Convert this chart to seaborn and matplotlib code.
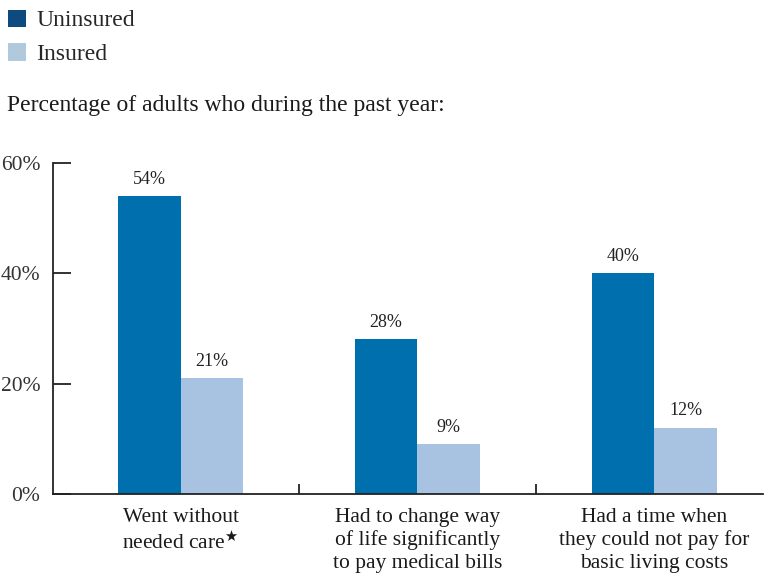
import matplotlib
matplotlib.use("Agg")
import matplotlib.pyplot as plt
import seaborn as sns
import pandas as pd
from matplotlib.patches import Patch

categories = ["Went without\nneeded care$^{\\bigstar}$",
              "Had to change way\nof life significantly\nto pay medical bills",
              "Had a time when\nthey could not pay for\nbasic living costs"]
groups = ["Uninsured", "Insured"]
uninsured = [54, 28, 40]
insured = [21, 9, 12]
yticks = [0, 20, 40, 60]
ytick_labels = ["0%", "20%", "40%", "60%"]

bar_colors = ["#006fae", "#a8c3e1"]
legend_colors = ["#0d4a7e", "#b1c9dc"]

sns.set_theme(style="white")
plt.rcParams["font.family"] = ["Liberation Serif", "DejaVu Serif"]
plt.rcParams["mathtext.fontset"] = "dejavuserif"

df = pd.DataFrame({
    "cat": categories * 2,
    "group": [groups[0]] * 3 + [groups[1]] * 3,
    "value": uninsured + insured,
})

fig = plt.figure(figsize=(7.64, 5.75), dpi=100)
ax = fig.add_axes([0.069, 0.141, 0.930, 0.5755])

sns.barplot(data=df, x="cat", y="value", hue="group", order=categories,
            hue_order=groups, palette=bar_colors, width=0.53, saturation=1,
            linewidth=0, edgecolor="none", ax=ax, legend=False)

for cont in ax.containers:
    labels = [f"{int(round(b.get_height()))}%" for b in cont]
    ax.bar_label(cont, labels=labels, padding=6, fontsize=13, color="#222222")

ax.set_xlim(-0.54, 2.46)
ax.set_ylim(0, 60)
ax.set_yticks(yticks)
ax.set_yticklabels(ytick_labels, fontsize=15.5, color="#333333")
ax.set_xticks([0, 1, 2])
ax.set_xticklabels(categories, fontsize=15.5, color="#1a1a1a", va="top", linespacing=1.25)
ax.set_xticks([0.5, 1.5], minor=True)
ax.tick_params(axis="x", which="major", length=0, pad=10)
ax.tick_params(axis="x", which="minor", direction="in", length=7, width=1.3,
               color="#222222", bottom=True)
ax.tick_params(axis="y", direction="in", length=13, width=1.3, color="#222222",
               left=True, pad=9)
ax.set_xlabel("")
ax.set_ylabel("")

for s in ["top", "right"]:
    ax.spines[s].set_visible(False)
for s in ["left", "bottom"]:
    ax.spines[s].set_color("#222222")
    ax.spines[s].set_linewidth(1.3)

handles = [Patch(facecolor=c, edgecolor="none") for c in legend_colors]
fig.legend(handles, groups, loc="upper left", bbox_to_anchor=(-0.008, 1.008),
           frameon=False, fontsize=17, handlelength=0.75, handleheight=0.75,
           handletextpad=0.45, labelspacing=0.5, borderaxespad=0.2)

fig.text(0.009, 0.817, "Percentage of adults who during the past year:",
         fontsize=17, color="#1a1a1a", va="center", ha="left")

fig.savefig("out.png", dpi=100)
